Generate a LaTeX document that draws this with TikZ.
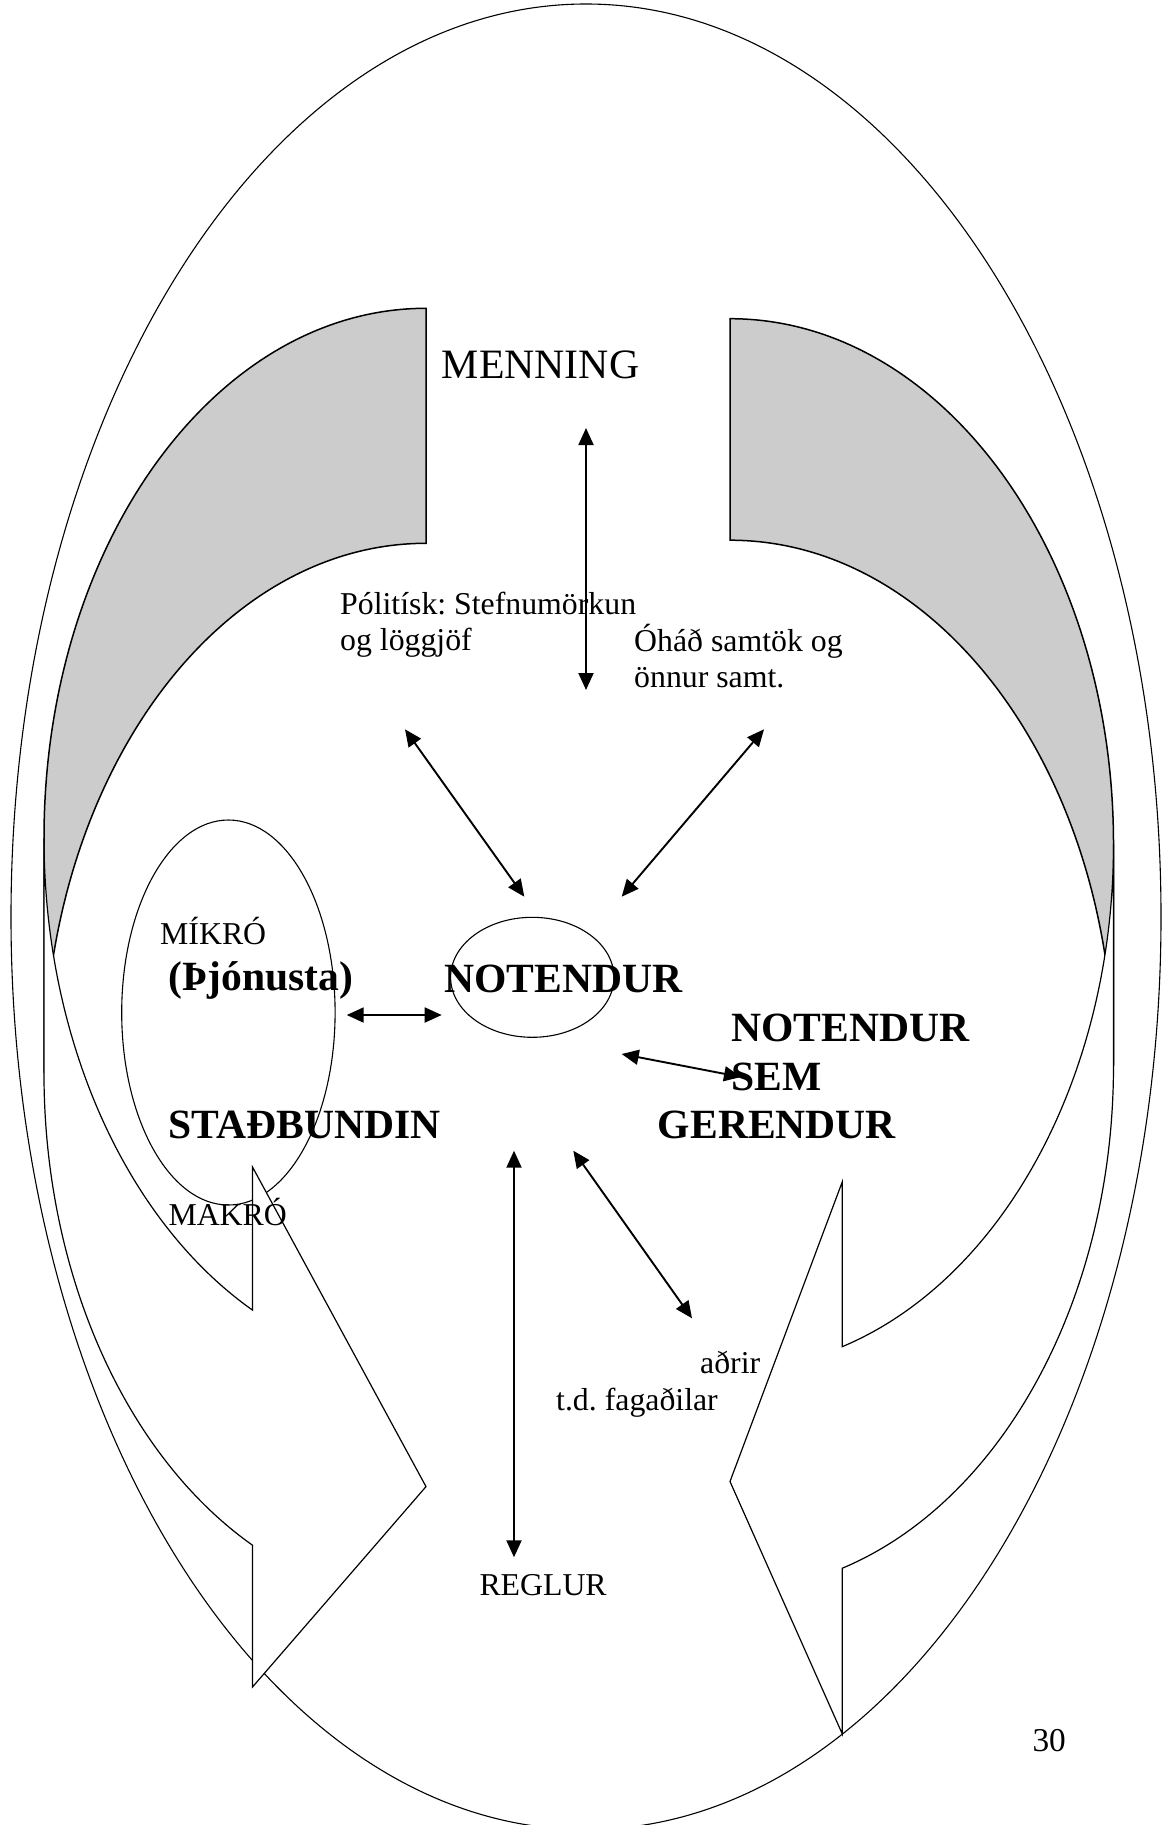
\documentclass[tikz,border=0pt]{standalone}
\usepackage{fontspec}
\setmainfont{Liberation Serif}
\usetikzlibrary{arrows.meta,shapes.geometric}
\definecolor{bandgray}{HTML}{CCCCCC}
\begin{document}
\frenchspacing
\begin{tikzpicture}[x=1pt,y=1pt,
  outline/.style={draw=black,line width=1.1pt},
  backband/.style={draw=black,fill=bandgray,line width=1.5pt,line join=miter},
  frontband/.style={draw=black,fill=white,line width=1.2pt,line join=miter},
  ring/.style={draw=black,ellipse,inner sep=0pt,line width=1.1pt},
  conn/.style={line width=1.9pt,{Triangle[length=17pt,width=15pt]}-{Triangle[length=17pt,width=15pt]}},
  regtxt/.style={inner sep=0pt,anchor=base west,font=\fontsize{31.8pt}{36.5pt}\selectfont},
  titletxt/.style={inner sep=0pt,anchor=base west,font=\fontsize{41.8pt}{48pt}\selectfont},
  boldtxt/.style={inner sep=0pt,anchor=base west,font=\fontsize{41.6pt}{48pt}\selectfont\bfseries},
  pnumtxt/.style={inner sep=0pt,anchor=base west,font=\fontsize{33.3pt}{38pt}\selectfont}]
\useasboundingbox (0,0) rectangle (1165,-1825);
\clip (0,0) rectangle (1165,-1825);
\fill[white] (0,0) rectangle (1165,-1825);

% outer ellipse
\draw[outline] (586,-916.8) ellipse [x radius=575, y radius=912.8];

% left curved arrow: back (grey) band
\draw[backband] (426,-308.3) arc[start angle=90,end angle=180,x radius=382,y radius=529.8]
  -- (44,-1073.1) arc[start angle=180,end angle=90,x radius=382,y radius=529.8] -- cycle;
% right curved arrow: back (grey) band
\draw[backband] (730,-318.7) arc[start angle=90,end angle=0,x radius=383.5,y radius=525.5]
  -- (1113.5,-1065.7) arc[start angle=0,end angle=90,x radius=383.5,y radius=525.5] -- cycle;

% small ellipses
\node[ring,minimum width=213.4pt,minimum height=385pt] (mikro) at (228.4,-1012.5) {};
\node[ring,minimum width=163.4pt,minimum height=120pt] (notell) at (532.3,-977.3) {};

% left curved arrow: front band with head
\draw[frontband] (44,-838.1) arc[start angle=180,end angle=242.99,x radius=382,y radius=529.8]
  -- (252.5,-1167) -- (426,-1486.6) -- (252.5,-1687) -- (252.5,-1545.2)
  arc[start angle=242.99,end angle=180,x radius=382,y radius=529.8] -- cycle;
% right curved arrow: front band with head
\draw[frontband] (1113.5,-844.2) arc[start angle=360,end angle=287.03,x radius=383.5,y radius=525.5]
  -- (842.3,-1181.7) -- (730,-1481.5) -- (842.3,-1734) -- (842.3,-1568.2)
  arc[start angle=287.03,end angle=360,x radius=383.5,y radius=525.5] -- cycle;

% texts
\node[titletxt] (menning) at (441.7,-378.3) {MENNING};
\node[regtxt] (pol1) at (340,-614.3) {Pólitísk: Stefnumörkun};
\node[regtxt] (pol2) at (340,-650.3) {og löggjöf};
\node[regtxt] (ohad1) at (634,-651) {Óháð samtök og};
\node[regtxt] (ohad2) at (634,-687.3) {önnur samt.};
\node[regtxt] (mikrotxt) at (160,-944.3) {MÍKRÓ};
\node[boldtxt] (thjon) at (168.3,-990) {(Þjónusta)};
\node[boldtxt] (notendur) at (444,-992.3) {NOTENDUR};
\node[boldtxt] (nsg1) at (731,-1041.7) {NOTENDUR};
\node[boldtxt] (nsg2) at (731,-1090) {SEM};
\node[boldtxt] (nsg3) at (657.7,-1138.3) {GERENDUR};
\node[boldtxt] (stad) at (168.3,-1138.3) {STAÐBUNDIN};
\node[regtxt] (makro) at (168.3,-1225.7) {MAKRÓ};
\node[regtxt] (adrir) at (700,-1373) {aðrir};
\node[regtxt] (fag) at (556,-1410) {t.d. fagaðilar};
\node[regtxt] (reglur) at (479.3,-1595) {REGLUR};
\node[pnumtxt] (page) at (1032.3,-1751.7) {30};

% connector end points
\coordinate (mTop) at (586,-428);
\coordinate (mBot) at (586,-690);
\coordinate (pA) at (405,-729.3);
\coordinate (pB) at (524.3,-896.7);
\coordinate (oA) at (764,-729.3);
\coordinate (oB) at (621.7,-896.7);
\coordinate (hA) at (346.7,-1015);
\coordinate (hB) at (441.7,-1015);
\coordinate (sA) at (621.7,-1054);
\coordinate (sB) at (741,-1077);
\coordinate (rA) at (514,-1150.7);
\coordinate (rB) at (514,-1557.3);
\coordinate (aA) at (573.3,-1150.7);
\coordinate (aB) at (692,-1318.3);

\draw[conn] (mTop) -- (mBot);
\draw[conn] (pA) -- (pB);
\draw[conn] (oA) -- (oB);
\draw[conn] (hA) -- (hB);
\draw[conn] (sA) -- (sB);
\draw[conn] (rA) -- (rB);
\draw[conn] (aA) -- (aB);
\end{tikzpicture}
\end{document}
